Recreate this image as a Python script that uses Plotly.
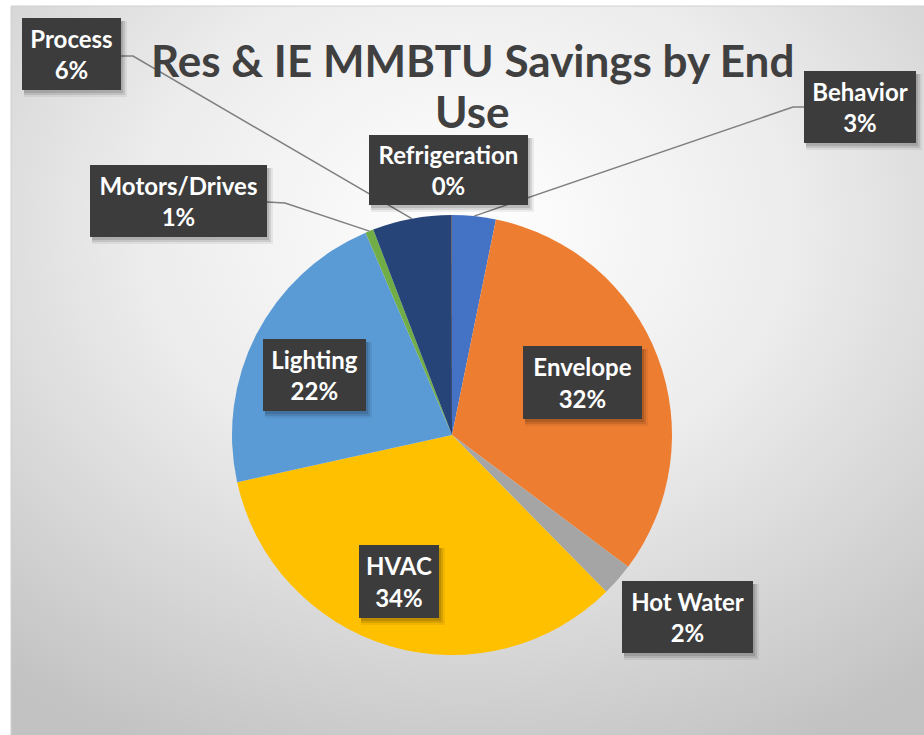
import math
import urllib.parse
import plotly.graph_objects as go

# ---- data ----
categories = ["Behavior", "Envelope", "Hot Water", "HVAC", "Lighting",
              "Motors/Drives", "Process", "Refrigeration"]
savings_share = [3.2, 32.0, 2.4, 33.9, 22.0, 0.6, 5.8, 0.02]
colors = ["#4472C4", "#ED7D31", "#A5A5A5", "#FFC000", "#5B9BD5",
          "#70AD47", "#264478", "#9E480E"]
title_lines = ["Res & IE MMBTU Savings by End", "Use"]

# ---- layout constants (pixels) ----
W, H = 924, 735
PIE_CX, PIE_CY, PIE_R = 452, 435, 220

# label boxes: (x0, y0, x1, y1) in pixels
label_boxes = {
    "Behavior": (804, 71, 916, 143),
    "Envelope": (523, 346, 642, 419),
    "Hot Water": (622, 581, 753, 653),
    "HVAC": (359, 545, 439, 618),
    "Lighting": (263, 339, 366, 411),
    "Motors/Drives": (90, 165, 267, 237),
    "Process": (22, 18, 121, 90),
    "Refrigeration": (369, 135, 528, 205),
}
# leader lines: start point on box and elbow point (pixels)
leaders = {
    "Process": [(121, 56), (133, 56)],
    "Motors/Drives": [(267, 202), (285, 203)],
    "Behavior": [(804, 107), (793, 107)],
}


def px(x):
    return x / W


def py(y):
    return 1 - y / H


total = sum(savings_share)
pcts = [round(v / total * 100) for v in savings_share]

fig = go.Figure()

fig.add_trace(go.Pie(
    labels=categories,
    values=savings_share,
    sort=False,
    direction="clockwise",
    rotation=0,
    marker=dict(colors=colors, line=dict(width=0)),
    textinfo="none",
    hoverinfo="label+percent",
    showlegend=False,
    domain=dict(x=[px(PIE_CX - PIE_R), px(PIE_CX + PIE_R)],
                y=[py(PIE_CY + PIE_R), py(PIE_CY - PIE_R)]),
))

# background gradient
svg = ("<svg xmlns='http://www.w3.org/2000/svg' width='913' height='729'>"
       "<defs><radialGradient id='g' cx='0.5' cy='0.3' r='0.8'>"
       "<stop offset='0' stop-color='#ffffff'/>"
       "<stop offset='0.45' stop-color='#ececec'/>"
       "<stop offset='1' stop-color='#c2c2c2'/>"
       "</radialGradient></defs>"
       "<rect width='913' height='729' fill='url(#g)'/></svg>")
src = "data:image/svg+xml;charset=utf-8," + urllib.parse.quote(svg)

shapes = [dict(type="rect", xref="paper", yref="paper",
               x0=px(11), x1=px(930), y0=py(740), y1=py(6),
               line=dict(color="#d0d0d0", width=1), fillcolor="rgba(0,0,0,0)",
               layer="below")]

# leader lines computed from slice mid angles
cum = 0
mids = {}
for c, v in zip(categories, savings_share):
    mids[c] = (cum + v / 2) / total * 2 * math.pi
    cum += v
for c, pts in leaders.items():
    a = mids[c]
    ex = PIE_CX + PIE_R * math.sin(a)
    ey = PIE_CY - PIE_R * math.cos(a)
    allp = pts + [(ex, ey)]
    path = "M " + " L ".join(f"{px(x):.5f},{py(y):.5f}" for x, y in allp)
    shapes.append(dict(type="path", xref="paper", yref="paper", path=path,
                       line=dict(color="#7f7f7f", width=1.5), layer="above"))

annotations = []
for c, p in zip(categories, pcts):
    x0, y0, x1, y1 = label_boxes[c]
    cx, cy = (x0 + x1) / 2, (y0 + y1) / 2
    w, h = x1 - x0, y1 - y0
    # soft shadow
    for dx, dy, grow, alpha in [(4, 5, 4, 0.06), (3, 4, 2, 0.10), (2, 3, 0, 0.12)]:
        annotations.append(dict(
            x=px(cx + dx), y=py(cy + dy), xref="paper", yref="paper",
            text="", showarrow=False, width=w + grow, height=h + grow,
            bgcolor=f"rgba(0,0,0,{alpha})", borderpad=0, borderwidth=0,
            xanchor="center", yanchor="middle"))
    annotations.append(dict(
        x=px(cx), y=py(cy), xref="paper", yref="paper",
        text=f"{c}<br>{p}%", showarrow=False, width=w, height=h,
        bgcolor="#3c3c3c", borderpad=0, borderwidth=0,
        align="center", valign="middle",
        xanchor="center", yanchor="middle",
        font=dict(family="Lato", size=24, color="#ffffff", weight="bold")))

title_tops = [32, 83]
for t, top in zip(title_lines, title_tops):
    annotations.append(dict(
        x=px(472), y=py(top), xref="paper", yref="paper",
        text=t, showarrow=False, xanchor="center", yanchor="top",
        align="center",
        font=dict(family="Lato", size=44, color="#404040", weight="bold")))

fig.update_layout(
    width=W, height=H,
    margin=dict(l=0, r=0, t=0, b=0),
    paper_bgcolor="#ffffff",
    plot_bgcolor="rgba(0,0,0,0)",
    shapes=shapes,
    annotations=annotations,
    images=[dict(source=src, xref="paper", yref="paper",
                 x=px(11), y=py(6), sizex=px(913), sizey=729 / H,
                 xanchor="left", yanchor="top", sizing="stretch",
                 layer="below")],
)

fig.write_html("out.html",
               config={"displayModeBar": False},
               post_script="document.body.style.margin='0';"
                           "document.body.style.overflow='hidden';")
